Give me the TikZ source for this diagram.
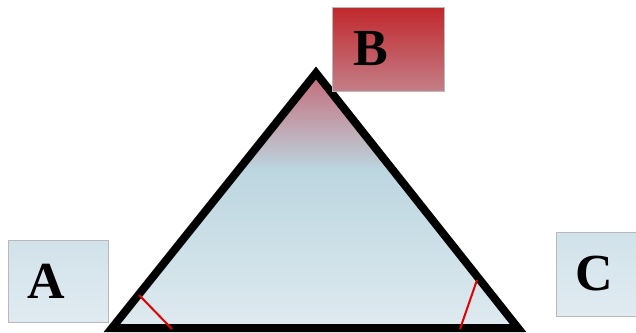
\documentclass[tikz,border=0pt]{standalone}
\usepackage{fontspec}
\setmainfont{Liberation Serif}
\usepackage{xcolor}
\usetikzlibrary{positioning,calc}

\definecolor{triblue}{HTML}{BCD6E0}
\definecolor{trilight}{HTML}{DFEAF0}
\definecolor{trired}{HTML}{C46A78}
\definecolor{boxred}{HTML}{C0282C}
\definecolor{boxpink}{HTML}{C47E88}
\definecolor{boxblue}{HTML}{D2E2EA}
\definecolor{boxpale}{HTML}{E0EBF1}

\pgfdeclareverticalshading{trishade}{100bp}{color(0bp)=(trilight); color(25bp)=(trilight);
  color(56bp)=(triblue); color(75bp)=(trired); color(100bp)=(trired)}

\begin{document}
\begin{tikzpicture}[
    x=1pt, y=-1pt,
    lbox/.style={draw=gray!55, line width=0.8pt, minimum width=#1, inner sep=0pt},
    letter/.style={font=\fontsize{52}{52}\selectfont\bfseries, inner sep=0pt},
    tick/.style={draw=red!90!black, line width=2pt},
  ]
  \useasboundingbox (0,0) rectangle (636,332);
  % Triangle
  \coordinate (A) at (112,328);
  \coordinate (B) at (316,73);
  \coordinate (C) at (518,328);
  \shade[shading=trishade] (A) -- (B) -- (C) -- cycle;
  \draw[line width=8pt, line join=miter] (A) -- (B) -- (C) -- cycle;
  % Angle ticks
  \coordinate (ta1) at (139,295);
  \coordinate (ta2) at (172,329);
  \coordinate (tc1) at (477,280);
  \coordinate (tc2) at (460,329);
  \draw[tick] (ta1) -- (ta2);
  \draw[tick] (tc1) -- (tc2);
  % Vertex boxes
  \node[lbox=100pt, minimum height=82pt, top color=boxblue, bottom color=boxpale]
        (boxA) at (58,281) {};
  \node[lbox=112pt, minimum height=84pt, top color=boxred, bottom color=boxpink]
        (boxB) at (388,49) {};
  \node[lbox=90pt, minimum height=84pt, top color=boxblue, bottom color=boxpale]
        (boxC) at (601,274) {};
  \node[letter, xshift=-12pt] (labA) at (boxA.center) {A};
  \node[letter, xshift=-17pt] (labB) at (boxB.center) {B};
  \node[letter, xshift=-7pt] (labC) at (boxC.center) {C};
\end{tikzpicture}
\end{document}
